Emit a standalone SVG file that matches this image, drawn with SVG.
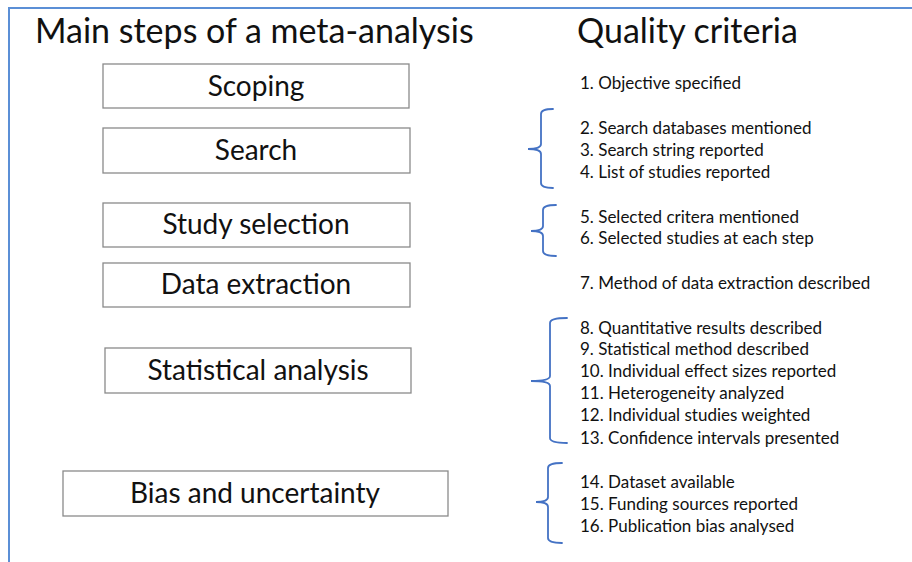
<svg xmlns="http://www.w3.org/2000/svg" width="912" height="562" viewBox="0 0 912 562">
<style>
.title{font-family:Lato,"Liberation Sans",sans-serif;font-size:34px;fill:#111}
.box{fill:#fff;stroke:#8a8a8a;stroke-width:1.3}
.lbl{font-family:Lato,"Liberation Sans",sans-serif;font-size:28px;fill:#111;text-anchor:middle}
.item{font-family:Lato,"Liberation Sans",sans-serif;font-size:17px;fill:#111}
.brace{fill:none;stroke:#4472C4;stroke-width:1.8;stroke-linecap:round}
.frame{fill:none;stroke:#5b8fd6;stroke-width:2}
</style>
<rect width="912" height="562" fill="#fff"/>
<path class="frame" d="M9,562 V8 H912"/>
<text class="title" x="35" y="43">Main steps of a meta-analysis</text>
<text class="title" x="577" y="43">Quality criteria</text>
<g id="scoping"><rect class="box" x="103" y="64" width="306" height="44"/><text class="lbl" x="256" y="96">Scoping</text></g>
<g id="search"><rect class="box" x="103" y="128" width="307" height="45"/><text class="lbl" x="256" y="160">Search</text></g>
<g id="study-selection"><rect class="box" x="103" y="203" width="307" height="44"/><text class="lbl" x="256" y="234">Study selection</text></g>
<g id="data-extraction"><rect class="box" x="103" y="263" width="307" height="44"/><text class="lbl" x="256" y="294">Data extraction</text></g>
<g id="statistical-analysis"><rect class="box" x="105" y="348" width="306" height="45"/><text class="lbl" x="258" y="380">Statistical analysis</text></g>
<g id="bias-uncertainty"><rect class="box" x="63" y="471" width="385" height="45"/><text class="lbl" x="255" y="503">Bias and uncertainty</text></g>
<g id="criteria">
<text class="item" x="580" y="89">1. Objective specified</text>
<text class="item" x="580" y="134">2. Search databases mentioned</text>
<text class="item" x="580" y="156">3. Search string reported</text>
<text class="item" x="580" y="178">4. List of studies reported</text>
<text class="item" x="580" y="223">5. Selected critera mentioned</text>
<text class="item" x="580" y="244">6. Selected studies at each step</text>
<text class="item" x="580" y="289">7. Method of data extraction described</text>
<text class="item" x="580" y="334">8. Quantitative results described</text>
<text class="item" x="580" y="355">9. Statistical method described</text>
<text class="item" x="580" y="377">10. Individual effect sizes reported</text>
<text class="item" x="580" y="399">11. Heterogeneity analyzed</text>
<text class="item" x="580" y="421">12. Individual studies weighted</text>
<text class="item" x="580" y="444">13. Confidence intervals presented</text>
<text class="item" x="580" y="488">14. Dataset available</text>
<text class="item" x="580" y="510">15. Funding sources reported</text>
<text class="item" x="580" y="532">16. Publication bias analysed</text>
</g>
<g id="connectors">
<path class="brace" d="M553,109 Q541,109 541,114 V144 Q541,149 528,149 Q541,149 541,154 V183 Q541,188 553,188"/>
<path class="brace" d="M556,205 Q543,205 543,210 V226 Q543,231 531,231 Q543,231 543,236 V251 Q543,256 556,256"/>
<path class="brace" d="M567,318 Q550,318 550,323 V376 Q550,381 531,381 Q550,381 550,386 V438 Q550,443 567,443"/>
<path class="brace" d="M562,463 Q548,463 548,468 V497 Q548,502 536,502 Q548,502 548,507 V538 Q548,543 562,543"/>
</g>
</svg>
